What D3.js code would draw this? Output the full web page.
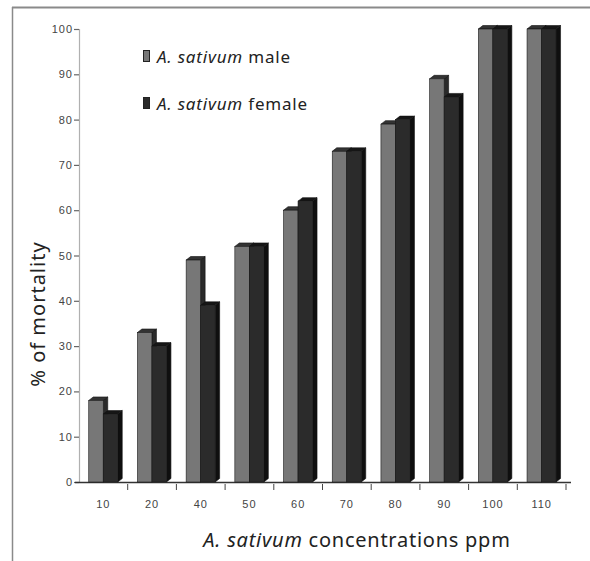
<!DOCTYPE html>
<html>
<head>
<meta charset="utf-8">
<script src="https://cdn.jsdelivr.net/npm/d3@7/dist/d3.min.js"></script>
<style>
  html, body { margin: 0; padding: 0; background: #fff; }
  svg { display: block; }
</style>
</head>
<body>
<svg id="chart" width="590" height="561"></svg>
<script>
// Concentrations (ppm) and % mortality for each sex
const concentrations = ["10", "20", "40", "50", "60", "70", "80", "90", "100", "110"];
const maleMortality = [18, 33, 49, 52, 60, 73, 79, 89, 100, 100];
const femaleMortality = [15, 30, 39, 52, 62, 73, 80, 85, 100, 100];
const seriesNames = ["A. sativum male", "A. sativum female"];
const yTicks = [0, 10, 20, 30, 40, 50, 60, 70, 80, 90, 100];

(function () {
  const svg = d3.select("#chart");
  const W = 590, H = 561;
  const textFont = "'Noto Sans', 'Open Sans', sans-serif";
  const tickFont = "'Liberation Sans', Arial, sans-serif";

  // Plot frame
  const plotL = 79, plotR = 566, plotT = 29, plotB = 482;

  const x = d3.scaleBand().domain(concentrations).range([plotL, plotR]).paddingInner(0).paddingOuter(0);
  const bw = x.bandwidth();
  const barW = 14.5;
  const sub = d3.scaleBand().domain(["male", "female"])
    .range([bw * 0.2, bw * 0.2 + 2 * barW]).padding(0);
  const y = d3.scaleLinear().domain([0, 100]).range([plotB, plotT]);

  // Figure border (top and left rules)
  svg.append("line").attr("x1", 12).attr("x2", W).attr("y1", 7.5).attr("y2", 7.5)
    .attr("stroke", "#8a8a8a").attr("stroke-width", 2);
  svg.append("line").attr("x1", 12.5).attr("x2", 12.5).attr("y1", 7).attr("y2", H)
    .attr("stroke", "#8a8a8a").attr("stroke-width", 1.5);

  // Y axis
  const yAxis = d3.axisLeft(y).tickValues(yTicks).tickSize(5).tickPadding(1);
  const gy = svg.append("g").attr("transform", `translate(${plotL},0)`).call(yAxis);
  gy.select(".domain").attr("stroke", "#b0b0b0").attr("stroke-width", 1.2);
  gy.selectAll(".tick line").attr("stroke", "#666").attr("stroke-width", 1.2);
  gy.selectAll(".tick text")
    .attr("font-family", tickFont)
    .attr("font-size", 11).attr("fill", "#444").attr("letter-spacing", "1");

  // X axis: labels centred in each band, ticks at band boundaries
  const xAxis = d3.axisBottom(x).tickSize(0).tickPadding(18);
  const gx = svg.append("g").attr("transform", `translate(0,${plotB})`).call(xAxis);
  gx.select(".domain").remove();
  gx.selectAll(".tick text")
    .attr("font-family", tickFont)
    .attr("font-size", 11).attr("fill", "#444").attr("letter-spacing", "1");
  svg.append("line").attr("x1", plotL - 4).attr("x2", plotR + 5)
    .attr("y1", plotB + 0.5).attr("y2", plotB + 0.5)
    .attr("stroke", "#333").attr("stroke-width", 1.4);
  svg.append("g").selectAll("line").data(concentrations).join("line")
    .attr("x1", d => x(d) + bw).attr("x2", d => x(d) + bw)
    .attr("y1", plotB + 2).attr("y2", plotB + 8)
    .attr("stroke", "#444").attr("stroke-width", 1);

  // 3D bars
  const dx = 4.5, dy = 3.5;
  const styles = {
    male:   { front: "#777777", side: "#2a2a2a", top: "#333333" },
    female: { front: "#2b2b2b", side: "#0f0f0f", top: "#161616" }
  };
  const rows = [];
  concentrations.forEach((c, i) => {
    rows.push({ c, key: "male", v: maleMortality[i] });
    rows.push({ c, key: "female", v: femaleMortality[i] });
  });

  const bars = svg.append("g").selectAll("g").data(rows).join("g");
  bars.each(function (d) {
    const g = d3.select(this);
    const x0 = x(d.c) + sub(d.key);
    const x1 = x0 + barW;
    const yt = y(d.v);
    const s = styles[d.key];
    // right side face
    g.append("path")
      .attr("d", `M${x1},${yt}L${x1 + dx},${yt - dy}L${x1 + dx},${plotB - dy}L${x1},${plotB}Z`)
      .attr("fill", s.side).attr("stroke", "#111").attr("stroke-width", 0.6);
    // top face
    g.append("path")
      .attr("d", `M${x0},${yt}L${x0 + dx},${yt - dy}L${x1 + dx},${yt - dy}L${x1},${yt}Z`)
      .attr("fill", s.top).attr("stroke", "#111").attr("stroke-width", 0.6);
    // front face
    g.append("rect")
      .attr("x", x0).attr("y", yt).attr("width", barW).attr("height", plotB - yt)
      .attr("fill", s.front).attr("stroke", "#1a1a1a").attr("stroke-width", 0.6);
  });

  // Legend
  const legend = svg.append("g");
  const legendRows = [
    { name: seriesNames[0], key: "male", y: 57 },
    { name: seriesNames[1], key: "female", y: 104 }
  ];
  legendRows.forEach(r => {
    legend.append("rect")
      .attr("x", 143.5).attr("y", r.y - 6.5).attr("width", 6).attr("height", 11)
      .attr("fill", styles[r.key].front).attr("stroke", "#222").attr("stroke-width", 1);
    const parts = r.name.split(" ");
    const t = legend.append("text")
      .attr("x", 157).attr("y", r.y + 6)
      .attr("font-family", textFont)
      .attr("font-size", 17).attr("letter-spacing", "0.8").attr("fill", "#222");
    t.append("tspan").attr("font-style", "italic").text(parts[0] + " " + parts[1]);
    t.append("tspan").text(" " + parts.slice(2).join(" "));
  });

  // Axis titles
  svg.append("text")
    .attr("transform", "translate(45,314) rotate(-90)")
    .attr("text-anchor", "middle")
    .attr("font-family", textFont)
    .attr("font-size", 20).attr("letter-spacing", "1").attr("fill", "#222")
    .text("% of mortality");

  const xt = svg.append("text")
    .attr("x", 357).attr("y", 547)
    .attr("text-anchor", "middle")
    .attr("font-family", textFont)
    .attr("font-size", 20).attr("letter-spacing", "0.75").attr("fill", "#222");
  xt.append("tspan").attr("font-style", "italic").text("A. sativum");
  xt.append("tspan").text(" concentrations ppm");
})();
</script>
</body>
</html>
